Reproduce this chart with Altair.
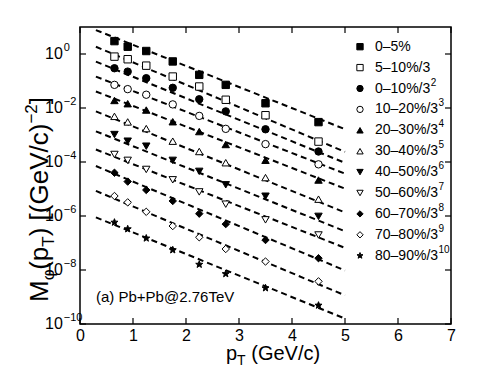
import math
import altair as alt
import pandas as pd

# ---------------- data ----------------
pt = [0.65, 0.9, 1.25, 1.75, 2.25, 2.75, 3.5, 4.5]

series = ["0-5%", "5-10%/3", "0-10%/3^2", "10-20%/3^3", "20-30%/3^4", "30-40%/3^5",
          "40-50%/3^6", "50-60%/3^7", "60-70%/3^8", "70-80%/3^9", "80-90%/3^10"]
legend_base = ["0\u20135%", "5\u201310%/3", "0\u201310%/3", "10\u201320%/3", "20\u201330%/3",
               "30\u201340%/3", "40\u201350%/3", "50\u201360%/3", "60\u201370%/3",
               "70\u201380%/3", "80\u201390%/3"]
legend_exp = ["", "", "2", "3", "4", "5", "6", "7", "8", "9", "10"]

m_values = [
    [3.0, 1.86, 1.29, 0.53, 0.169, 0.072, 0.0150, 0.0030],
    [0.80, 0.64, 0.37, 0.146, 0.0625, 0.0202, 0.0054, 5.7e-4],
    [0.297, 0.223, 0.127, 0.056, 0.0211, 0.0075, 0.00163, 2.45e-4],
    [0.072, 0.050, 0.031, 0.0136, 0.0051, 0.00169, 4.6e-4, 8.2e-5],
    [0.0190, 0.0144, 0.0084, 0.0031, 0.00134, 4.45e-4, 1.16e-4, 2.15e-5],
    [0.0049, 0.00305, 0.00173, 5.9e-4, 2.45e-4, 9.4e-5, 2.64e-5, 4.2e-6],
    [0.00104, 5.9e-4, 3.85e-4, 1.15e-4, 4.5e-5, 1.43e-5, 5.4e-6, 9.7e-7],
    [1.9e-4, 1.15e-4, 5.3e-5, 2.19e-5, 7.8e-6, 2.74e-6, 7.2e-7, 1.98e-7],
    [4.0e-5, 1.88e-5, 9.2e-6, 3.6e-6, 1.22e-6, 5.0e-7, 1.29e-7, 2.74e-8],
    [5.5e-6, 3.2e-6, 1.43e-6, 4.25e-7, 1.63e-7, 6.0e-8, 2.06e-8, 3.8e-9],
    [5.8e-7, 3.3e-7, 1.5e-7, 5.5e-8, 1.6e-8, 7.2e-9, 2.15e-9, 4.9e-10],
]

# dashed fit lines: value at pT = 0.3 and at pT = 5
fit_pt = [0.3, 5.0]
fit_start = [7.7, 1.86, 0.52, 0.146, 0.041, 0.0075, 0.00137, 2.9e-4, 7.1e-5, 8.5e-6, 8.9e-7]
fit_end = [1.64e-3, 2.38e-4, 9.3e-5, 3.7e-5, 1.03e-5, 1.35e-6, 2.73e-7, 6.6e-8, 9.6e-9, 1.15e-9, 1.58e-10]

x_ticks = [0, 1, 2, 3, 4, 5, 6, 7]
y_tick_exps = [0, -2, -4, -6, -8, -10]

# ---------------- styles ----------------
FONT = "Liberation Sans"
W, H = 371, 297
shapes_rng = ["square", "square", "circle", "circle", "triangle-up", "triangle-up",
              "triangle-down", "triangle-down", "diamond", "diamond"]
star = []
for k in range(10):
    r = 1.0 if k % 2 == 0 else 0.42
    a = -math.pi / 2 + k * math.pi / 5
    star.append(f"{r*math.cos(a):.3f},{r*math.sin(a):.3f}")
STAR = "M" + " L".join(star) + " Z"
shapes_rng.append(STAR)
fill_rng = ["black" if i % 2 == 0 else "white" for i in range(len(series))]

ADV = {'0': .556, '1': .556, '2': .556, '3': .556, '4': .556, '5': .556, '6': .556,
       '7': .556, '8': .556, '9': .556, '(': .333, ')': .333, ' ': .278, '[': .278,
       ']': .278, 'G': .778, 'e': .556, 'V': .667, '/': .278, 'c': .5, 'M': .833,
       'p': .556, 'T': .611, '\u2212': .584, '\u2013': .556, '%': .889, '\u03c6': .62}


def tw(s, size):
    return sum(ADV.get(ch, .556) for ch in s) * size


xscale = alt.Scale(domain=[0, 7], nice=False, zero=False)
yscale = alt.Scale(type="log", domain=[1e-10, 10], nice=False)
xaxis = alt.Axis(values=x_ticks, ticks=False, domain=False, grid=False, title=None,
                 labelFontSize=16, labelFont=FONT, labelColor="black", labelPadding=3,
                 labelFlush=False)

# ---------------- tables ----------------
rows = []
for i, s in enumerate(series):
    for p, v in zip(pt, m_values[i]):
        rows.append({"series": s, "pt": p, "M": v, "idx": i})
pts_df = pd.DataFrame(rows)

lrows = []
for i, s in enumerate(series):
    lrows.append({"series": s, "pt": fit_pt[0], "M": fit_start[i]})
    lrows.append({"series": s, "pt": fit_pt[1], "M": fit_end[i]})
lines_df = pd.DataFrame(lrows)

xt_df = pd.DataFrame({"t": x_ticks})
yt_df = pd.DataFrame({"v": [10.0 ** e for e in y_tick_exps],
                      "e": [("\u2212" + str(-e)) if e < 0 else str(e) for e in y_tick_exps]})

X = lambda f: alt.X(f, scale=xscale, axis=xaxis)
Y = lambda f: alt.Y(f, scale=yscale, axis=None)

layers = []

# fit lines
layers.append(alt.Chart(lines_df).mark_line(color="black", strokeWidth=2, strokeDash=[6, 4]).encode(
    x=X("pt:Q"), y=Y("M:Q"), detail="series:N"))

# data points
layers.append(alt.Chart(pts_df).mark_point(size=55, strokeWidth=1, opacity=1, stroke="black").encode(
    x=X("pt:Q"), y=Y("M:Q"),
    shape=alt.Shape("series:N", scale=alt.Scale(domain=series, range=shapes_rng), legend=None),
    fill=alt.Fill("series:N", scale=alt.Scale(domain=series, range=fill_rng), legend=None)))

# inward ticks
TL = 6
layers.append(alt.Chart(xt_df).mark_rule(color="black", strokeWidth=1.2).encode(
    x=X("t:Q"), y=alt.value(H), y2=alt.value(H - TL)))
layers.append(alt.Chart(xt_df).mark_rule(color="black", strokeWidth=1.2).encode(
    x=X("t:Q"), y=alt.value(0), y2=alt.value(TL)))
layers.append(alt.Chart(yt_df).mark_rule(color="black", strokeWidth=1.2).encode(
    y=Y("v:Q"), x=alt.value(0), x2=alt.value(TL)))
layers.append(alt.Chart(yt_df).mark_rule(color="black", strokeWidth=1.2).encode(
    y=Y("v:Q"), x=alt.value(W), x2=alt.value(W - TL)))

# y tick labels: "10" + exponent
YL_X = -35
YL_FS = 16
layers.append(alt.Chart(yt_df).mark_text(text="10", align="left", baseline="middle",
                                          fontSize=YL_FS, font=FONT, color="black").encode(
    y=Y("v:Q"), x=alt.value(YL_X)))
layers.append(alt.Chart(yt_df).mark_text(align="left", baseline="middle", dy=-6,
                                          fontSize=11, font=FONT, color="black").encode(
    y=Y("v:Q"), x=alt.value(YL_X + tw("10", YL_FS) + 1), text="e:N"))


def txt(s, x, y, size, angle=0, align="left", baseline="alphabetic"):
    return alt.Chart(alt.Data(values=[{}])).mark_text(
        text=s, x=x, y=y, fontSize=size, font=FONT, color="black",
        align=align, baseline=baseline, angle=angle)


# annotation
layers.append(txt("(a) Pb+Pb@2.76TeV", 16, 270, 15, baseline="middle"))

# x title: p_T (GeV/c)
XT_FS, XT_SUB = 20, 14
xt_x = 146
xt_base = 333
layers.append(txt("p", xt_x, xt_base, XT_FS))
xt_x += tw("p", XT_FS)
layers.append(txt("T", xt_x, xt_base + 5, XT_SUB))
xt_x += tw("T", XT_SUB) + tw(" ", XT_FS)
layers.append(txt("(GeV/c)", xt_x, xt_base, XT_FS))

# y title: M_phi(p_T) [(GeV/c)^-2], rotated, reading upward
YT_FS, YT_SUB = 26, 17
ybase_x = -32
pieces = [("M", YT_FS, 0, 0), ("\u03c6", YT_SUB, 6, 0), ("(p", YT_FS, 0, 0), ("T", YT_SUB, 6, 0),
          (")", YT_FS, 0, 0), ("[(GeV/c)", YT_FS, 0, tw(" ", YT_FS)), ("\u22122", YT_SUB, -11, 0),
          ("]", YT_FS, 0, 0)]
ypos = 302 - 27
for s, f, off, gap in pieces:
    ypos -= gap
    layers.append(txt(s, ybase_x + off, ypos, f, angle=270))
    ypos -= tw(s, f)

# legend
LG_FS = 14
LG_Y0, LG_DY = 19.7, 20.9
LG_SX, LG_TX = 280, 295
for i, s in enumerate(series):
    yy = LG_Y0 + i * LG_DY
    layers.append(alt.Chart(alt.Data(values=[{}])).mark_point(
        shape=shapes_rng[i], fill=fill_rng[i], stroke="black", strokeWidth=1, opacity=1,
        size=40, x=LG_SX, y=yy))
    layers.append(txt(legend_base[i], LG_TX, yy, LG_FS, baseline="middle"))
    if legend_exp[i]:
        layers.append(txt(legend_exp[i], LG_TX + tw(legend_base[i], LG_FS) + 0.5, yy - 6, 10,
                          baseline="middle"))

chart = alt.layer(*layers).properties(
    width=W, height=H,
    padding={"left": 72, "top": 19, "right": 30, "bottom": 49},
    autosize=alt.AutoSizeParams(type="none"),
).configure_view(stroke="black", strokeWidth=1.5)

chart.save("out.html", embed_options={"renderer": "svg", "actions": False})
